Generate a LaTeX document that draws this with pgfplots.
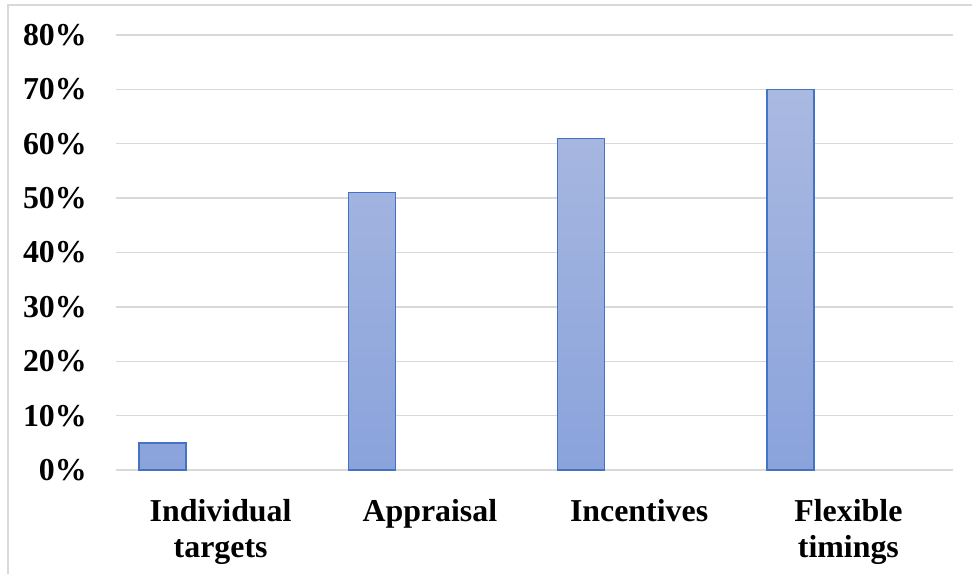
\documentclass[border=0pt]{standalone}
\usepackage{pgfplots}
\pgfplotsset{compat=1.18}
\usepackage{fontspec}
\setmainfont{Liberation Serif}
\definecolor{barTop}{HTML}{AAB9E1}
\definecolor{barBot}{HTML}{8AA3DB}
\definecolor{barEdge}{HTML}{4472C4}
\definecolor{gridc}{HTML}{D9D9D9}
\begin{document}
\begin{tikzpicture}
\begin{axis}[
  at={(0,0)}, anchor=south west,
  scale only axis,
  width=837bp, height=435bp,
  xmin=-0.5, xmax=3.5,
  ymin=0, ymax=80,
  axis line style={draw=none},
  ytick={0,10,...,80},
  yticklabel={\pgfmathprintnumber{\tick}\%},
  ymajorgrids,
  major grid style={gridc, line width=1.3bp},
  major tick length=0pt,
  xtick={0,1,2,3},
  xticklabels={Individual\\targets, Appraisal, Incentives, Flexible\\timings},
  yticklabel style={anchor=east, inner sep=0pt, xshift=-29bp, font=\fontsize{32}{36}\selectfont\bfseries},
  xticklabel style={anchor=north, inner sep=0pt, yshift=-29bp, align=center, font=\fontsize{32}{36}\selectfont\bfseries},
  /pgf/number format/assume math mode=true,
  bar width=0.2246,
  clip=false,
]
\addplot[ybar, bar shift=0pt, draw=barEdge, line width=1.5bp, top color=barTop, bottom color=barBot]
  coordinates {(-0.277,5) (0.723,51) (1.723,61) (2.723,70)};
\end{axis}
\draw[gridc, line width=1.3bp] (-108bp,-104bp) -- (-108bp,465bp) -- (856bp,465bp);
\pgfresetboundingbox
\useasboundingbox (-116bp,-104bp) rectangle (856bp,470bp);
\end{tikzpicture}
\end{document}
